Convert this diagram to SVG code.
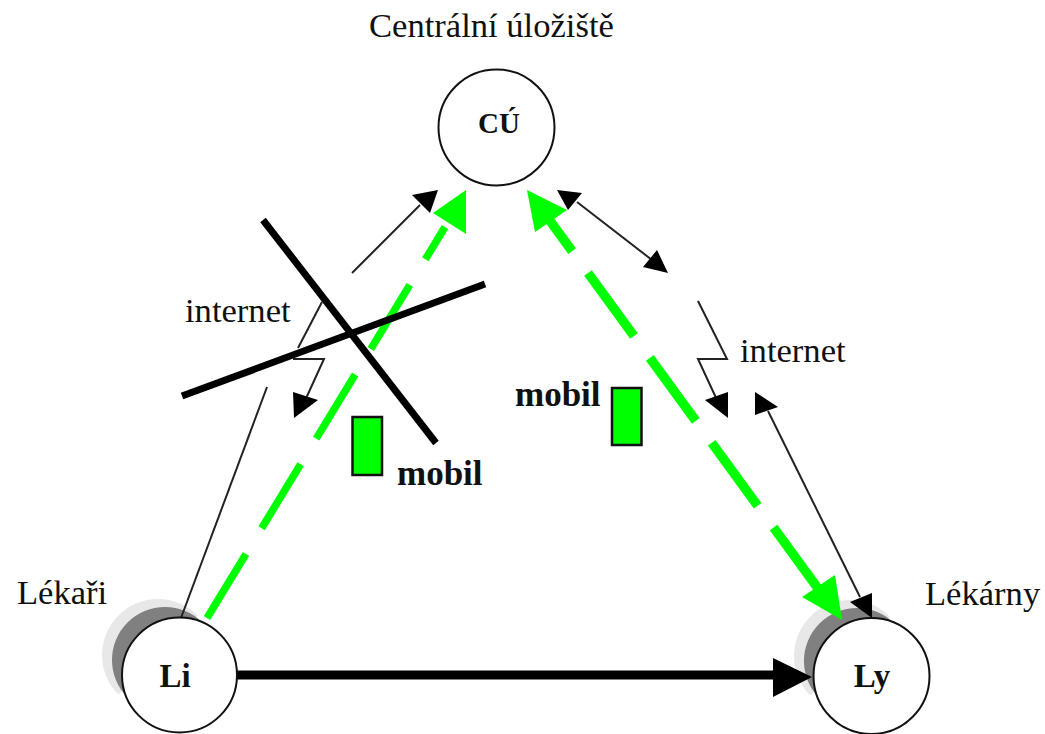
<svg xmlns="http://www.w3.org/2000/svg" width="1045" height="734" viewBox="0 0 1045 734">
<style>
text{font-family:"Liberation Serif","Times New Roman",serif;font-size:34.600px;fill:#111}
.b{font-weight:bold}
.m{text-anchor:middle}
.n{fill:#fff;stroke:#111;stroke-width:2}
.l1{fill:#e8e8e8}
.l2{fill:#808080}
.t{fill:none;stroke:#222;stroke-width:2}
.h{fill:#000;stroke:none}
.gl{fill:none;stroke:#00ff00}
.g{fill:#00ff00;stroke:none}
.box{fill:#00ff00;stroke:#111;stroke-width:2.500}
.x{stroke:#000;stroke-width:7;fill:none}
</style>
<g id="shadows">
<path class="l1" d="M197.600 615.400A56 56 0 0 0 118.400 694.600Z"/>
<path class="l2" d="M202.500 622.500A53 53 0 0 0 127.500 697.500Z"/>
<path class="l1" d="M889.600 616.400A56 56 0 0 0 810.400 695.600Z"/>
<path class="l2" d="M894.500 623.500A53 53 0 0 0 819.500 698.500Z"/>
</g>
<g id="connectors">
<path class="gl" stroke-width="7.500" d="M207 618L445 227" stroke-dasharray="75 30"/>
<polygon class="g" points="466,190 433,213 466,234"/>
<path class="gl" stroke-width="9.500" d="M545 214L822 594" stroke-dasharray="78 27" stroke-dashoffset="32"/>
<polygon class="g" points="527,190 567,210 535,232"/>
<polygon class="g" points="842,620 802,597 835,575"/>
<path class="t" d="M352 273L420 205"/>
<polygon class="h" points="438,190 412,195 430,213"/>
<path class="t" d="M267 387L181 618"/>
<path class="t" d="M322 302L298 348"/>
<path class="t" d="M293 359H324L303 405"/>
<polygon class="h" points="294,418 293,392 318,400"/>
<path class="t" d="M577 202L652 260"/>
<polygon class="h" points="557,190 582,193 568,210"/>
<polygon class="h" points="668,273 657,250 643,267"/>
<path class="t" d="M698 301L727 359H698L717 400"/>
<polygon class="h" points="728,418 728,392 705,400"/>
<path class="t" d="M768 411L860 597"/>
<polygon class="h" points="755,392 755,415 778,407"/>
<path d="M237 675H780" fill="none" stroke="#000" stroke-width="9"/>
<polygon class="h" points="812,677 773,658 773,697"/>
</g>
<g id="cross">
<path class="x" d="M263 220L436 443"/>
<path class="x" d="M485 284L182 396"/>
</g>
<g id="node-cu">
<circle class="n" cx="496.500" cy="127.500" r="58"/>
<text class="b m" x="499" y="133" style="font-size:29px">CÚ</text>
</g>
<g id="label-central"><text x="369" y="37">Centrální úložiště</text></g>
<g id="node-li">
<circle class="n" cx="179.500" cy="675" r="57.500"/>
<text class="b m" x="175" y="687" style="font-size:33px">Li</text>
</g>
<g id="label-lekari"><text x="17" y="604">Lékaři</text></g>
<g id="node-ly">
<circle class="n" cx="871.500" cy="676" r="58"/>
<text class="b m" x="872" y="687" style="font-size:33px">Ly</text>
</g>
<polygon class="h" points="872,618 872,593 850,602"/>
<g id="label-lekarny"><text x="925" y="605">Lékárny</text></g>
<g id="label-internet-left"><text x="185" y="322">internet</text></g>
<g id="label-internet-right"><text x="740" y="362">internet</text></g>
<g id="mobil-left">
<rect class="box" x="352.500" y="417" width="29.500" height="58"/>
<text class="b" x="397" y="485" style="font-size:35px">mobil</text>
</g>
<g id="mobil-right">
<rect class="box" x="612" y="388" width="29.500" height="57"/>
<text class="b" x="515" y="406" style="font-size:35px">mobil</text>
</g>
</svg>
